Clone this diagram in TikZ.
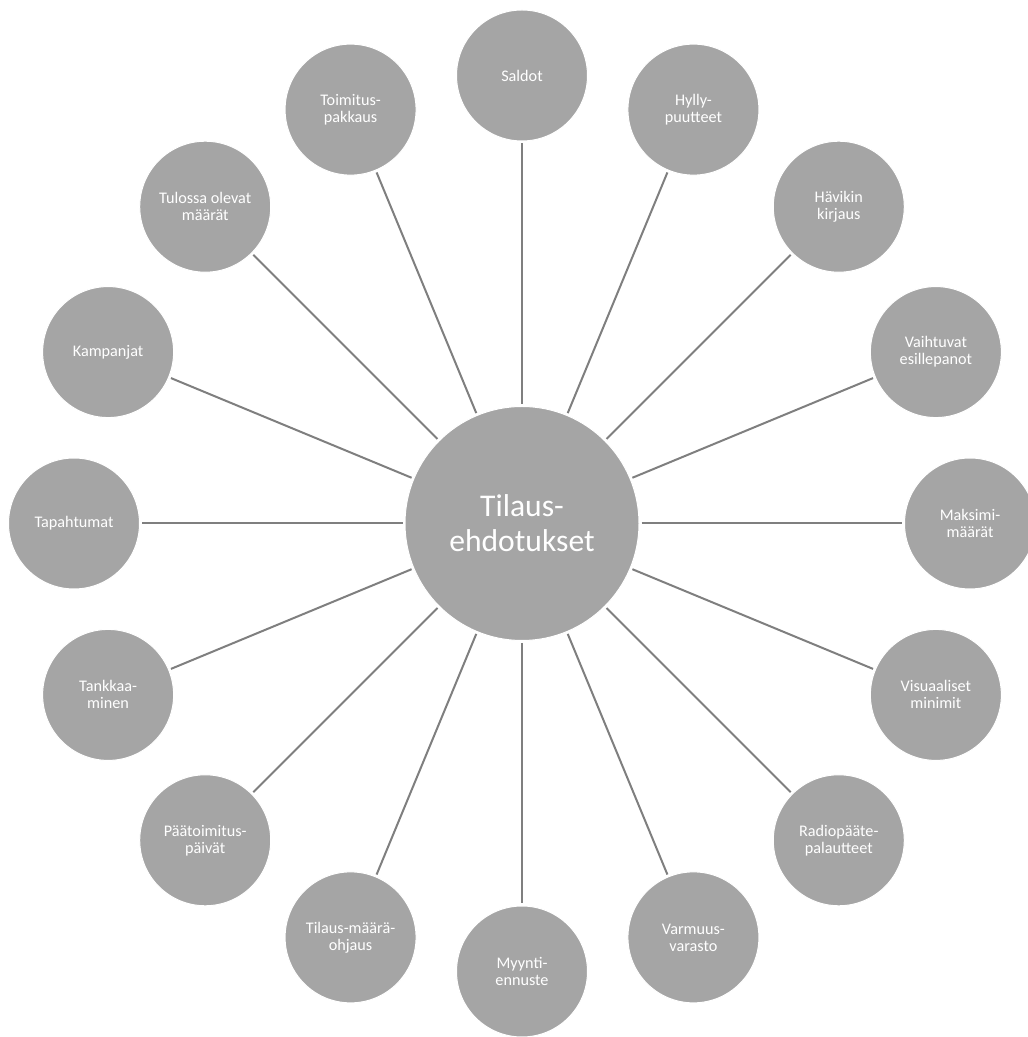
\documentclass[tikz,border=0pt]{standalone}
\usepackage{fontspec}
\setmainfont{Carlito}
\definecolor{circfill}{HTML}{A5A5A5}
\definecolor{linegray}{HTML}{7F7F7F}
\tikzset{
  outer/.style={circle, fill=circfill, draw=white, line width=1pt, minimum size=131pt, inner sep=0pt,
    text=white, align=center, font=\fontsize{16.2}{17}\selectfont},
  hub/.style={circle, fill=circfill, draw=white, line width=1pt, minimum size=234pt, inner sep=0pt,
    text=white, align=center, font=\fontsize{31.6}{35}\selectfont},
  spoke/.style={draw=linegray, line width=2pt, shorten >=2pt, shorten <=2pt}
}
\begin{document}
\begin{tikzpicture}
\useasboundingbox (0pt,0pt) rectangle (1028pt,1037pt);
\coordinate (c) at (522pt,513.5pt);
\foreach \a/\n/\t in {
  90/saldot/{Saldot},
  67.5/hylly/{Hylly-\\puutteet},
  45/havikki/{Hävikin\\kirjaus},
  22.5/vaihtuvat/{Vaihtuvat\\esillepanot},
  0/maksimi/{Maksimi-\\määrät},
  -22.5/visuaaliset/{Visuaaliset\\minimit},
  -45/radio/{Radiopääte-\\palautteet},
  -67.5/varmuus/{Varmuus-\\varasto},
  -90/myynti/{Myynti-\\ennuste},
  -112.5/tilausmaara/{Tilaus-määrä-\\ohjaus},
  -135/paatoimitus/{Päätoimitus-\\päivät},
  -157.5/tankkaa/{Tankkaa-\\minen},
  180/tapahtumat/{Tapahtumat},
  157.5/kampanjat/{Kampanjat},
  135/tulossa/{Tulossa olevat\\määrät},
  112.5/toimitus/{Toimitus-\\pakkaus}} {
  \node[outer] (\n) at ([shift={(\a:448pt)}]c) {\t};
}
\node[hub] (hub) at (c) {Tilaus-\\ehdotukset};
\foreach \n in {saldot,hylly,havikki,vaihtuvat,maksimi,visuaaliset,radio,varmuus,myynti,tilausmaara,paatoimitus,tankkaa,tapahtumat,kampanjat,tulossa,toimitus} {
  \draw[spoke] (hub) -- (\n);
}
\end{tikzpicture}
\end{document}
